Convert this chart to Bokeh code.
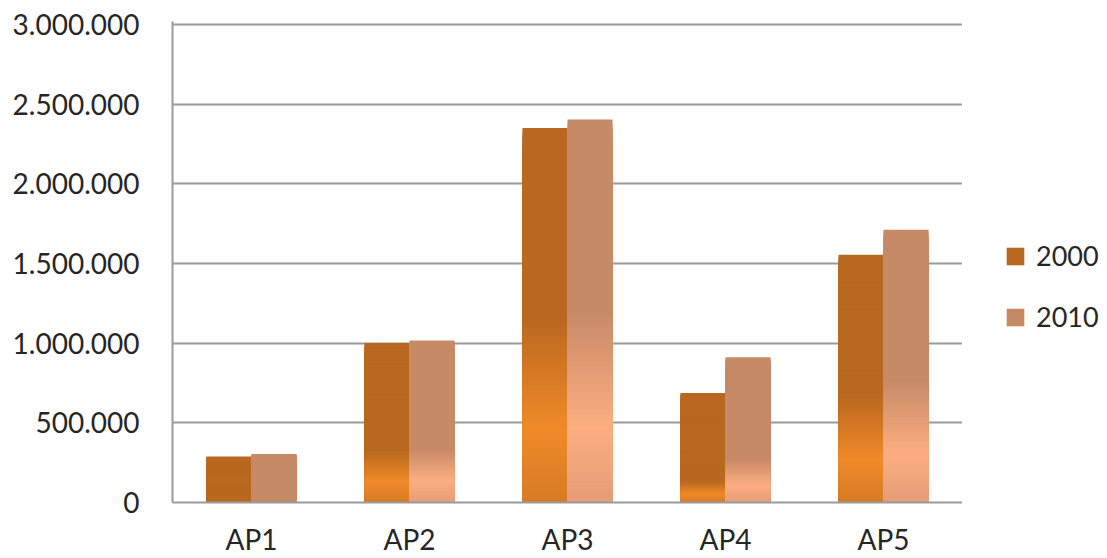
from bokeh.plotting import figure
from bokeh.layouts import row
from bokeh.models import (ColumnDataSource, FactorRange, SingleIntervalTicker,
                          CustomJSTickFormatter, Legend, LegendItem)
from bokeh.transform import dodge
from bokeh.embed import file_html
from bokeh.resources import INLINE

# ---- data ----
categories = ["AP1", "AP2", "AP3", "AP4", "AP5"]
series_names = ["2000", "2010"]
values_2000 = [289000, 1002000, 2352000, 688000, 1556000]
values_2010 = [305000, 1017000, 2404000, 912000, 1713000]
y_ticks_step = 500000
y_max = 3000000

# ---- style ----
FONT = "Lato"
TEXT = "#262626"
GRID = "#9a9a9a"
# (bottom, bright, dark) colours of each series' gradient
colours_2000 = ("#d67b25", "#f08a28", "#b9681f")
colours_2010 = ("#e59c77", "#fcae80", "#c78a67")
N_SLICES = 90


def hex_to_rgb(h):
    h = h.lstrip("#")
    return tuple(int(h[i:i + 2], 16) for i in (0, 2, 4))


def mix(c0, c1, t):
    a, b = hex_to_rgb(c0), hex_to_rgb(c1)
    return "#%02x%02x%02x" % tuple(round(a[k] + (b[k] - a[k]) * t) for k in range(3))


def colour_at(level, v, cols):
    bottom, bright, dark = cols
    d = 0.618 * v - 293000  # where the dark top part ends
    if d <= 0:
        return dark
    b = 0.4 * d
    if level >= d:
        return dark
    if level >= b:
        return mix(bright, dark, (level - b) / (d - b))
    return mix(bottom, bright, level / b)


def slices(values, cols):
    # overlapping rects from 0 up to each level, tallest drawn first
    xs, tops, colours = [], [], []
    for i in reversed(range(N_SLICES)):
        for cat, v in zip(categories, values):
            xs.append(cat)
            tops.append(v * (i + 1) / N_SLICES)
            colours.append(colour_at(v * (i + 0.5) / N_SLICES, v, cols))
    return ColumnDataSource(dict(x=xs, top=tops, color=colours))


p = figure(width=962, height=558, x_range=FactorRange(*categories),
           y_range=(0, y_max * 1.0067), output_backend="svg", toolbar_location=None,
           min_border_left=172, min_border_right=0, min_border_top=21,
           min_border_bottom=56)
p.outline_line_color = None
p.background_fill_color = "white"

bar_w = 0.285
src0 = slices(values_2000, colours_2000)
src1 = slices(values_2010, colours_2010)
p.vbar(x=dodge("x", -bar_w / 2, range=p.x_range), bottom=0, top="top",
       width=bar_w, source=src0, fill_color="color", line_color=None)
p.vbar(x=dodge("x", bar_w / 2, range=p.x_range), bottom=0, top="top",
       width=bar_w, source=src1, fill_color="color", line_color=None)

# axes
p.yaxis.ticker = SingleIntervalTicker(interval=y_ticks_step)
p.yaxis.formatter = CustomJSTickFormatter(
    code="return tick.toFixed(0).replace(/\\B(?=(\\d{3})+(?!\\d))/g, '.');")
for ax in (p.xaxis[0], p.yaxis[0]):
    ax.major_tick_line_color = None
    ax.minor_tick_line_color = None
    ax.major_label_text_font = FONT
    ax.major_label_text_font_size = "28px"
    ax.major_label_text_color = TEXT
    ax.axis_line_color = GRID
    ax.axis_line_width = 2
p.yaxis.major_label_standoff = 27
p.xaxis.major_label_standoff = 13

p.xgrid.grid_line_color = None
p.ygrid.grid_line_color = GRID
p.ygrid.grid_line_width = 2

# ---- legend panel ----
lg = figure(width=145, height=558, x_range=(0, 145), y_range=(0, 558),
            output_backend="svg", toolbar_location=None,
            min_border=0)
lg.axis.visible = False
lg.grid.visible = False
lg.outline_line_color = None
r0 = lg.vbar(x=[0], top=[0], width=0, fill_color=colours_2000[2], line_color=None)
r1 = lg.vbar(x=[0], top=[0], width=0, fill_color=colours_2010[2], line_color=None)

legend = Legend(items=[LegendItem(label=series_names[0], renderers=[r0]),
                       LegendItem(label=series_names[1], renderers=[r1])],
                location=(42, 169), orientation="vertical")
legend.label_text_font = FONT
legend.label_text_font_size = "27px"
legend.label_text_color = TEXT
legend.glyph_width = 22
legend.glyph_height = 22
legend.label_height = 22
legend.label_standoff = 10
legend.spacing = 28
legend.padding = 0
legend.margin = 0
legend.border_line_color = None
legend.background_fill_alpha = 0
lg.add_layout(legend, "center")

layout = row(p, lg, spacing=0)
open("out.html", "w").write(file_html(layout, INLINE))
